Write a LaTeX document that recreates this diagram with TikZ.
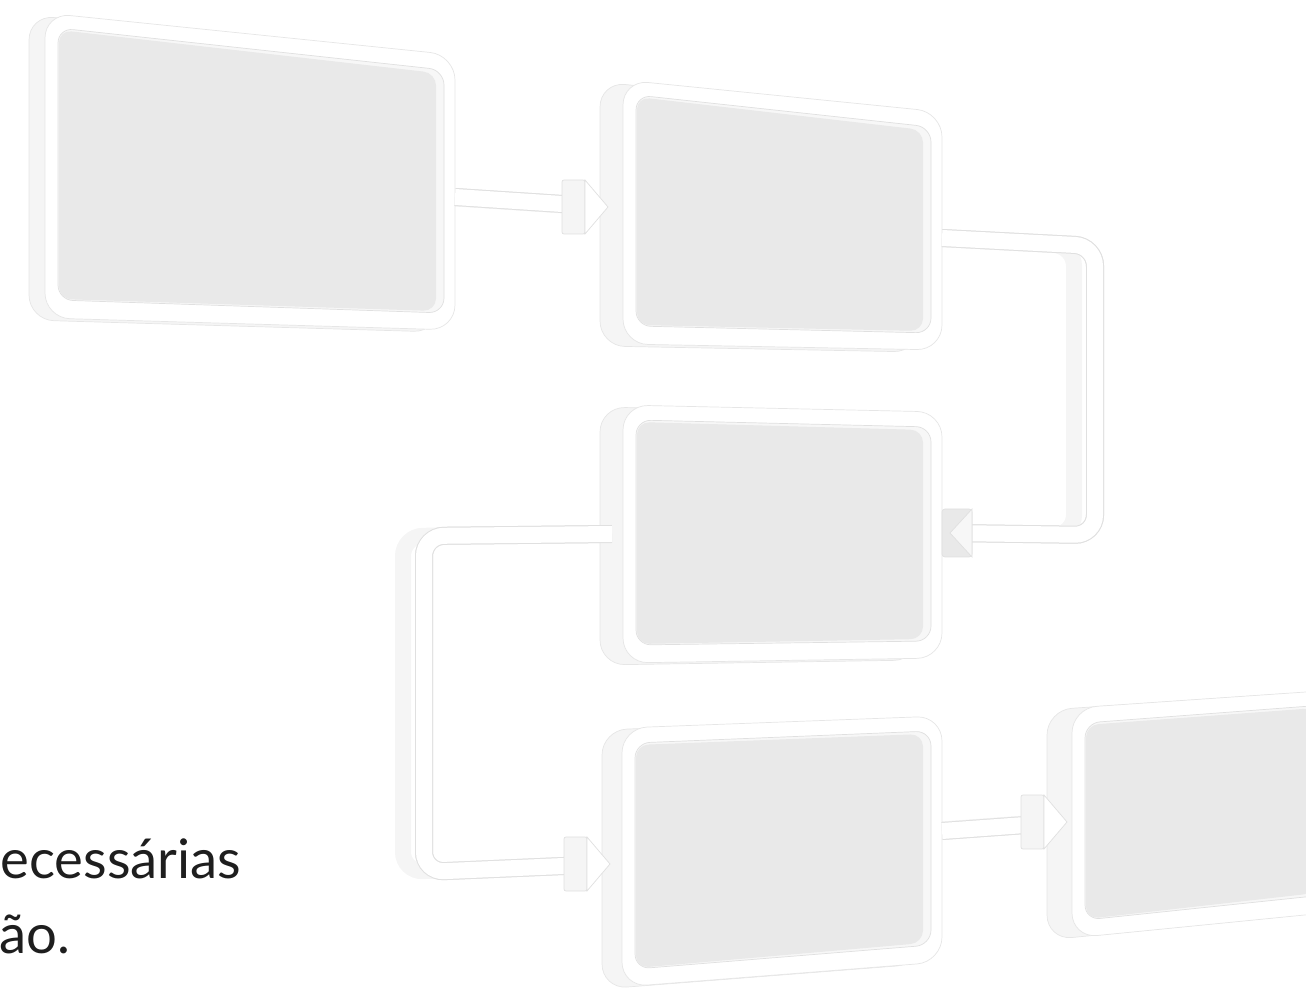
\documentclass[tikz,border=0pt]{standalone}
\usepackage{fontspec}
\setmainfont{Lato}
\usetikzlibrary{calc}
\definecolor{edgecol}{HTML}{E0E0E0}
\definecolor{sidecol}{HTML}{F5F5F5}
\definecolor{wallcol}{HTML}{F7F7F7}
\definecolor{floorcol}{HTML}{E9E9E9}
\definecolor{inkcol}{HTML}{1E1E1E}
% one framed panel: name, depth, corners tl tr br bl of the front face
\newcommand{\panel}[6]{%
  \coordinate (#1-tl) at (#3);
  \coordinate (#1-tr) at (#4);
  \coordinate (#1-br) at (#5);
  \coordinate (#1-bl) at (#6);
  \filldraw[panelside] ($(#1-tl)+(-#2,2)$) -- ($(#1-tr)+(-#2,2)$)
     -- ($(#1-br)+(-#2,2)$) -- ($(#1-bl)+(-#2,2)$) -- cycle;
  \filldraw[panelface] (#1-tl) -- (#1-tr) -- (#1-br) -- (#1-bl) -- cycle;
  \filldraw[panelwall] ($(#1-tl)+(13,15)$) -- ($(#1-tr)+(-11,15)$)
     -- ($(#1-br)+(-11,-17)$) -- ($(#1-bl)+(13,-18)$) -- cycle;
  \fill[panelfloor] ($(#1-tl)+(14,17)$) -- ($(#1-tr)+(-19,18)$)
     -- ($(#1-br)+(-19,-19)$) -- ($(#1-bl)+(14,-19)$) -- cycle;
}

\begin{document}
\begin{tikzpicture}[
   x=0.02cm, y=-0.02cm,
   panelside/.style={fill=sidecol, draw=edgecol!80, line width=0.4pt, rounded corners=0.5cm},
   panelface/.style={fill=white, draw=edgecol!80, line width=0.4pt, rounded corners=0.5cm},
   panelwall/.style={fill=wallcol, draw=edgecol, line width=0.4pt, rounded corners=0.3cm},
   panelfloor/.style={fill=floorcol, rounded corners=0.25cm},
   bar/.style={line width=0.32cm, draw=white, rounded corners=0.4cm,
      preaction={draw=edgecol, line width=0.36cm}},
   barside/.style={line width=0.32cm, draw=sidecol, rounded corners=0.4cm,
      transform canvas={xshift=-0.42cm}, preaction={draw=edgecol, line width=0.36cm}},
   headright/.pic={
      \filldraw[fill=sidecol, draw=edgecol, line width=0.4pt, rounded corners=0.04cm]
         (-23,-27) -- (-46,-27) -- (-46,27) -- (-23,27) -- cycle;
      \filldraw[fill=white, draw=edgecol, line width=0.4pt] (0,0) -- (-23,-27) -- (-23,27) -- cycle;
   },
   headleft/.pic={
      \filldraw[fill=edgecol!70, draw=edgecol, line width=0.4pt, rounded corners=0.06cm]
         (-8,-24) -- (22,-24) -- (22,24) -- (-8,24) -- cycle;
      \filldraw[fill=wallcol, draw=edgecol, line width=0.4pt] (0,0) -- (22,-24) -- (22,24) -- cycle;
   },
   txt/.style={anchor=base west, inner sep=0pt, text=inkcol, font=\fontsize{31}{37}\selectfont}
]
\useasboundingbox (0,0) rectangle (1306,989);

\node[txt] (t1) at (0,878) {ecessárias};
\node[txt] (t2) at (-1,953) {ão.};

% anchor points of the connectors
\coordinate (p1-out) at (455,197);
\coordinate (p2-in) at (608,207);
\coordinate (p2-out) at (942,238);
\coordinate (c2a) at (1095,246);
\coordinate (c2b) at (1095,535);
\coordinate (p3-in) at (950,533);
\coordinate (p3-out) at (612,534);
\coordinate (c3a) at (424,536);
\coordinate (c3b) at (424,872);
\coordinate (p4-in) at (610,864);
\coordinate (p4-out) at (942,831);
\coordinate (p5-in) at (1067,822);

% depth of the bars
\draw[barside] (p1-out) -- (p2-in);
\draw[barside] (p2-out) -- (c2a) -- (c2b) -- (p3-in);
\draw[barside] (p3-out) -- (c3a) -- (c3b) -- (p4-in);
\draw[barside] (p4-out) -- (p5-in);

\panel{p1}{16}{45,13}{455,55}{455,330}{45,318}
\panel{p2}{23}{623,80}{942,112}{942,350}{623,344}
\panel{p3}{23}{623,405}{942,412}{942,658}{623,663}
\panel{p4}{20}{622,728}{942,716}{942,962}{622,987}
\panel{p5}{25}{1072,708}{1335,690}{1335,912}{1072,938}

\draw[bar, shorten >=0.36cm] (p1-out) -- (p2-in);
\draw[bar, shorten >=0.3cm] (p2-out) -- (c2a) -- (c2b) -- (p3-in);
\draw[bar, shorten >=0.36cm] (p3-out) -- (c3a) -- (c3b) -- (p4-in);
\draw[bar, shorten >=0.36cm] (p4-out) -- (p5-in);

\pic (h1) at (p2-in) {headright};
\pic (h2) at (p3-in) {headleft};
\pic (h3) at (p4-in) {headright};
\pic (h4) at (p5-in) {headright};
\end{tikzpicture}
\end{document}
